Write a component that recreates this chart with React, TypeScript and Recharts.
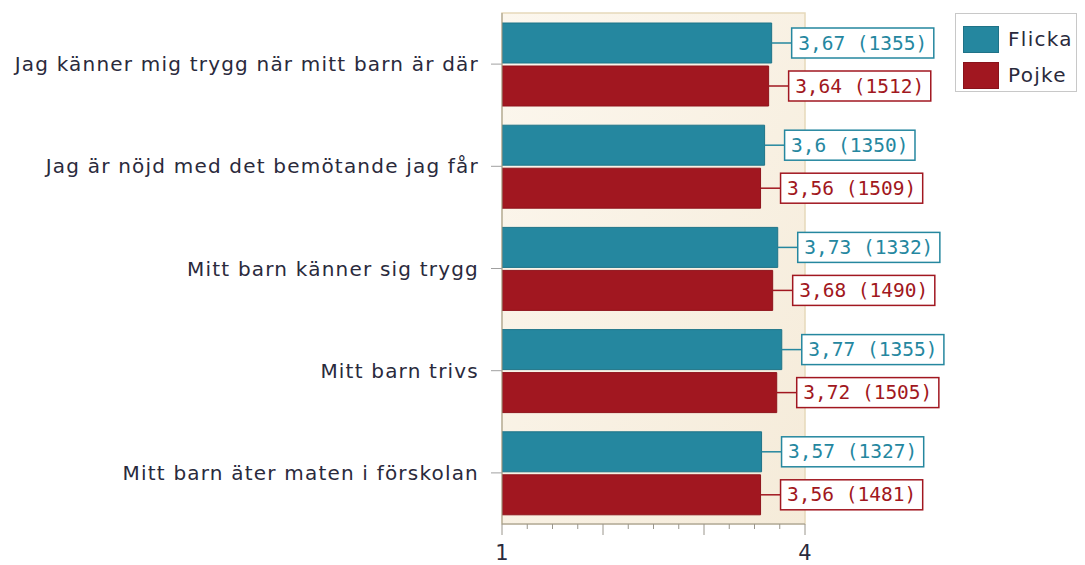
import React from 'react';
import { BarChart, Bar, XAxis, YAxis, CartesianGrid, Legend, LabelList, ReferenceArea } from 'recharts';

const categories = [
  'Jag känner mig trygg när mitt barn är där',
  'Jag är nöjd med det bemötande jag får',
  'Mitt barn känner sig trygg',
  'Mitt barn trivs',
  'Mitt barn äter maten i förskolan',
];
const flickaValues = [3.67, 3.6, 3.73, 3.77, 3.57];
const flickaCounts = [1355, 1350, 1332, 1355, 1327];
const pojkeValues = [3.64, 3.56, 3.68, 3.72, 3.56];
const pojkeCounts = [1512, 1509, 1490, 1505, 1481];
const xTicks = [1, 1.25, 1.5, 1.75, 2, 2.25, 2.5, 2.75, 3, 3.25, 3.5, 3.75, 4];
const xLabelTicks = [1, 4];

const TEAL = '#25879F';
const RED = '#A11720';
const MONO = '"DejaVu Sans Mono", "Liberation Mono", monospace';
const SANS = '"DejaVu Sans", Verdana, sans-serif';

const data = categories.map((c, i) => ({
  name: c,
  Flicka: flickaValues[i],
  Pojke: pojkeValues[i],
  fc: flickaCounts[i],
  pc: pojkeCounts[i],
}));

const fmt = (v: number) => String(v).replace('.', ',');

const makeLabel = (color: string, counts: number[]) => (props: any) => {
  const { x, y, width, height, value, index } = props;
  const text = `${fmt(value)} (${counts[index]})`;
  const fs = 19.5;
  const tw = text.length * fs * 0.602;
  const endX = x + width;
  const cy = y + height / 2;
  const bx = endX + 20;
  const bw = tw + 13;
  const bh = 30;
  return (
    <g>
      <line x1={endX} y1={cy} x2={bx} y2={cy} stroke={color} strokeWidth={1.5} />
      <rect x={bx} y={cy - bh / 2} width={bw} height={bh} fill="#fff" stroke={color} strokeWidth={1.5} />
      <text x={bx + bw / 2} y={cy + 1} textAnchor="middle" dominantBaseline="middle" fill={color} fontSize={fs} fontFamily={MONO}>
        {text}
      </text>
    </g>
  );
};

const XTick = (props: any) => {
  const { x, y, payload } = props;
  const v = payload.value;
  const major = Number.isInteger(v);
  return (
    <g>
      <line x1={x} y1={y} x2={x} y2={y + (major ? 11 : 5)} stroke="#9a968c" strokeWidth={1} />
      {xLabelTicks.includes(v) && (
        <text x={x} y={y + 36} textAnchor="middle" fill="#2a2a3c" fontSize={21} fontFamily={SANS}>
          {v}
        </text>
      )}
    </g>
  );
};

const YTick = (props: any) => {
  const { x, y, payload } = props;
  return (
    <text x={x} y={y} textAnchor="end" dominantBaseline="central" fill="#2a2a3c" fontSize={20} letterSpacing={1.2} fontFamily={SANS}>
      {payload.value}
    </text>
  );
};

const LegendContent = () => (
  <div
    style={{
      border: '1px solid #c8c8c8',
      background: '#fff',
      width: 122,
      height: 79,
      boxSizing: 'border-box',
      padding: '7px 0 0 7px',
      fontFamily: SANS,
      fontSize: 20,
      letterSpacing: 1.3,
      color: '#2a2a3c',
    }}
  >
    {[
      ['Flicka', TEAL],
      ['Pojke', RED],
    ].map(([n, c]) => (
      <div key={n} style={{ display: 'flex', alignItems: 'center', height: 36 }}>
        <div style={{ width: 36, height: 27, background: c, border: '1px solid rgba(0,0,0,0.15)', boxSizing: 'border-box', marginRight: 9 }} />
        <span>{n}</span>
      </div>
    ))}
  </div>
);

export default function App() {
  return (
    <div style={{ position: 'absolute', left: 0, top: 0 }}>
      <BarChart
        width={1085}
        height={565}
        layout="vertical"
        data={data}
        margin={{ top: 13, right: 158, bottom: 11, left: 0 }}
        barSize={40}
        barGap={3}
      >
        <defs>
          <linearGradient id="bg" x1="0" y1="0" x2="1" y2="1">
            <stop offset="0%" stopColor="#FCF7EE" />
            <stop offset="100%" stopColor="#F5EBD9" />
          </linearGradient>
        </defs>
        <ReferenceArea x1={1} x2={4} fill="url(#bg)" fillOpacity={1} stroke="#E6D9BA" strokeWidth={1.5} ifOverflow="visible" />
        <CartesianGrid horizontal={false} stroke="#E3D5B0" verticalValues={[2, 3]} />
        <XAxis
          type="number"
          domain={[1, 4]}
          ticks={xTicks}
          interval={0}
          tick={<XTick />}
          tickLine={false}
          tickSize={0}
          tickMargin={0}
          axisLine={{ stroke: '#9a968c' }}
          height={30}
          allowDataOverflow
        />
        <YAxis
          type="category"
          dataKey="name"
          width={502}
          tickSize={11}
          tickMargin={12}
          tickLine={{ stroke: '#a0a0a0' }}
          axisLine={{ stroke: '#a09a88' }}
          tick={<YTick />}
          interval={0}
        />
        <Legend
          verticalAlign="top"
          align="right"
          layout="vertical"
          content={<LegendContent />}
          wrapperStyle={{ position: 'absolute', left: 955, top: 13, width: 122 }}
        />
        <Bar dataKey="Flicka" fill={TEAL} stroke="#1F7488" strokeWidth={1} isAnimationActive={false}>
          <LabelList dataKey="Flicka" content={makeLabel(TEAL, flickaCounts)} />
        </Bar>
        <Bar dataKey="Pojke" fill={RED} stroke="#8E131B" strokeWidth={1} isAnimationActive={false}>
          <LabelList dataKey="Pojke" content={makeLabel(RED, pojkeCounts)} />
        </Bar>
      </BarChart>
    </div>
  );
}
